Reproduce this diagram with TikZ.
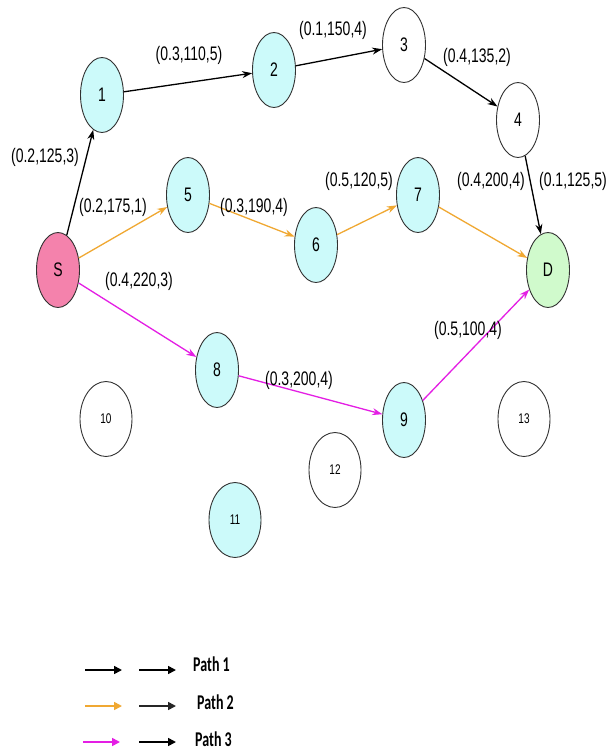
\documentclass[tikz,border=0pt]{standalone}
\usepackage{fontspec}
\usepackage{graphicx}
\setmainfont{Liberation Sans}
\newfontfamily\legendfont{Carlito}
\usetikzlibrary{shapes.geometric,arrows.meta}

\definecolor{nodecyan}{RGB}{204,250,250}
\definecolor{srcpink}{RGB}{244,130,172}
\definecolor{dstgreen}{RGB}{208,250,204}
\definecolor{pathorange}{RGB}{240,168,50}
\definecolor{pathmagenta}{RGB}{228,30,228}
\definecolor{rim}{RGB}{50,50,50}

% glyphs drawn narrow and tall
\newcommand{\vstretch}[1]{\scalebox{1}[1.4]{#1}}
\newcommand{\legstretch}[1]{\scalebox{1}[1.5]{#1}}

\begin{document}
\begin{tikzpicture}[x=1pt,y=-1pt,
  vertex/.style={ellipse,draw=rim,line width=0.9pt,minimum width=43pt,
    minimum height=75pt,inner sep=0pt,font=\fontsize{14}{14}\selectfont},
  hop/.style={vertex,fill=nodecyan},
  idle/.style={vertex,fill=white},
  spare/.style={vertex,minimum width=52pt,font=\fontsize{10}{10}\selectfont},
  weight/.style={inner sep=0pt,font=\fontsize{14}{14}\selectfont},
  link/.style={line width=1.3pt,-{Stealth[length=10pt,width=7pt]}},
  p1/.style={link,black},
  p2/.style={link,pathorange},
  p3/.style={link,pathmagenta},
  legarrow/.style={line width=1.6pt,-{Triangle[length=8pt,width=8pt]}},
  legtext/.style={inner sep=0pt,anchor=west,font=\legendfont\bfseries\fontsize{14}{14}\selectfont}
]
\useasboundingbox[fill=white] (0,0) rectangle (613,750);

% nodes
\node[vertex,fill=srcpink] (S) at (58,270) {\vstretch{S}};
\node[vertex,fill=dstgreen] (D) at (548,270) {\vstretch{D}};
\node[hop] (n1) at (102,95) {\vstretch{1}};
\node[hop] (n2) at (274,70) {\vstretch{2}};
\node[idle] (n3) at (404,45) {\vstretch{3}};
\node[idle] (n4) at (518,120) {\vstretch{4}};
\node[hop] (n5) at (188,195) {\vstretch{5}};
\node[hop] (n6) at (316,245) {\vstretch{6}};
\node[hop] (n7) at (418,195) {\vstretch{7}};
\node[hop] (n8) at (217,370) {\vstretch{8}};
\node[hop] (n9) at (404,420) {\vstretch{9}};
\node[spare,fill=white] (n10) at (106,419) {\vstretch{10}};
\node[spare,fill=nodecyan] (n11) at (235,520) {\vstretch{11}};
\node[spare,fill=white] (n12) at (335,470) {\vstretch{12}};
\node[spare,fill=white] (n13) at (524,419) {\vstretch{13}};

% path 1
\draw[p1] (S) -- (n1);
\draw[p1] (n1) -- (n2);
\draw[p1] (n2) -- (n3);
\draw[p1] (n3) -- (n4);
\draw[p1] (n4) -- (D);
% path 2
\draw[p2] (S) -- (n5);
\draw[p2] (n5) -- (n6);
\draw[p2] (n6) -- (n7);
\draw[p2] (n7) -- (D);
% path 3
\draw[p3] (S) -- (n8);
\draw[p3] (n8) -- (n9);
\draw[p3] (n9) -- (D);

% link weights
\node[weight] (w1) at (45,157) {\vstretch{(0.2,125,3)}};
\node[weight] (w2) at (189,55) {\vstretch{(0.3,110,5)}};
\node[weight] (w3) at (333,30) {\vstretch{(0.1,150,4)}};
\node[weight] (w4) at (477,57) {\vstretch{(0.4,135,2)}};
\node[weight] (w5) at (113,207) {\vstretch{(0.2,175,1)}};
\node[weight] (w6) at (254,207) {\vstretch{(0.3,190,4)}};
\node[weight] (w7) at (359,181) {\vstretch{(0.5,120,5)}};
\node[weight] (w8) at (491,181) {\vstretch{(0.4,200,4)}};
\node[weight] (w9) at (573,181) {\vstretch{(0.1,125,5)}};
\node[weight] (w10) at (139,281) {\vstretch{(0.4,220,3)}};
\node[weight] (w11) at (299,380) {\vstretch{(0.3,200,4)}};
\node[weight] (w12) at (468,330) {\vstretch{(0.5,100,4)}};

% legend
\coordinate (a1s) at (85,670);  \coordinate (a1e) at (122,670);
\coordinate (b1s) at (139,670); \coordinate (b1e) at (176,670);
\coordinate (a2s) at (85,706);  \coordinate (a2e) at (122,706);
\coordinate (b2s) at (139,706); \coordinate (b2e) at (176,706);
\coordinate (a3s) at (83,742);  \coordinate (a3e) at (120,742);
\coordinate (b3s) at (139,742); \coordinate (b3e) at (176,742);
\draw[legarrow,black] (a1s) -- (a1e);
\draw[legarrow,black] (b1s) -- (b1e);
\draw[legarrow,pathorange] (a2s) -- (a2e);
\draw[legarrow,black!85] (b2s) -- (b2e);
\draw[legarrow,pathmagenta] (a3s) -- (a3e);
\draw[legarrow,black] (b3s) -- (b3e);
\node[legtext] (l1) at (193,664) {\legstretch{Path 1}};
\node[legtext] (l2) at (197,702) {\legstretch{Path 2}};
\node[legtext] (l3) at (195,739) {\legstretch{Path 3}};
\end{tikzpicture}
\end{document}
